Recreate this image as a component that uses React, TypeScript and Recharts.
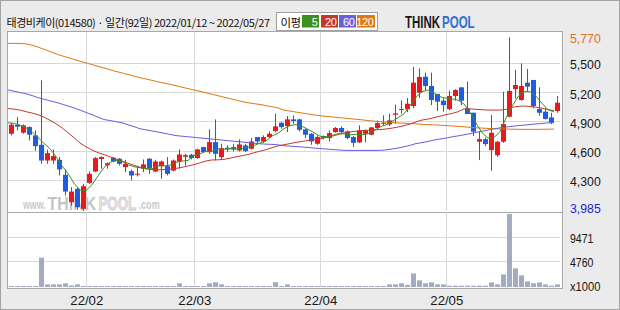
import React from 'react';
import { ComposedChart, Bar, Line, XAxis, YAxis, CartesianGrid } from 'recharts';

const TITLE = '태경비케이(014580) · 일간(92일) 2022/01/12 ~ 2022/05/27';
const MA_LEGEND = ['5', '20', '60', '120'];

const OPEN = [4779,4872,4790,4848,4762,4666,4504,4504,4511,4357, 4075,4213,4007,4274,4391,4520,4455,4532,4522,4436, 4395,4360,4419,4522,4391,4446,4446,4401,4494,4542, 4563,4529,4642,4590,4693,4539,4635,4642,4607,4659, 4625,4745,4700,4745,4807,4892,4858,4927,4927,4824, 4779,4676,4755,4735,4796,4838,4803,4745,4690,4779, 4769,4838,4882,4875,4975,5023,5030,5064,5201,5366, 5270,5188,5119,5033,5167,5256,5040,4995,4697,4724, 4611,4559,4697,4954,5239,5126,5304,5332,5033,5006, 4947,5013];
const HIGH = [4892,4951,4875,4855,4813,5328,4614,4618,4539,4412, 4230,4230,4264,4391,4539,4545,4485,4539,4529,4511, 4412,4440,4515,4529,4511,4504,4539,4515,4618,4573, 4573,4625,4645,4824,4927,4676,4659,4676,4721,4676, 4735,4745,4762,4803,4985,4899,4961,4968,4934,4831, 4786,4762,4762,4813,4848,4855,4813,4755,4865,4820, 4848,4916,4968,4985,5078,5122,5146,5466,5450,5407, 5407,5188,5143,5222,5236,5256,5315,4995,4807,4741, 4971,4704,5212,5770,5435,5503,5445,5332,5256,5040, 4995,5167];
const LOW = [4762,4813,4779,4710,4604,4470,4470,4470,4350,4144, 4041,4000,3985,4264,4384,4420,4420,4487,4453,4384, 4298,4340,4384,4367,4384,4316,4350,4391,4419,4453, 4515,4522,4590,4573,4504,4511,4590,4597,4597,4590, 4618,4676,4686,4735,4796,4831,4796,4882,4803,4734, 4666,4666,4721,4700,4789,4779,4721,4642,4683,4690, 4762,4831,4865,4858,4882,4985,5002,5043,5146,5229, 5074,5013,5006,5023,5119,5074,4982,4755,4508,4652, 4398,4542,4686,4947,5143,5119,5212,5040,4965,4927, 4879,4995];
const CLOSE = [4872,4851,4865,4769,4652,4504,4580,4549,4412,4185, 4185,4024,4240,4367,4528,4540,4475,4494,4470,4470, 4350,4368,4464,4426,4494,4494,4367,4504,4566,4559, 4529,4618,4590,4693,4573,4631,4618,4618,4669,4601, 4700,4700,4745,4779,4855,4848,4927,4910,4820,4769, 4700,4745,4735,4786,4838,4796,4735,4686,4813,4813, 4844,4889,4892,4916,4989,5033,5088,5304,5363,5270, 5126,5109,5074,5167,5229,5119,4982,4800,4724,4673, 4789,4697,4879,5219,5280,5270,5263,5064,4995,4930, 4892,5098];
const VOLUME = [190,190,190,190,190,5550,500,500,500,700, 300,500,190,190,190,190,190,190,190,190, 190,190,190,190,190,190,190,190,700,190, 190,190,190,700,900,500,190,190,190,190, 190,190,190,190,900,190,500,190,190,190, 190,190,190,190,190,190,190,190,190,190, 190,190,190,500,500,700,400,2580,1250,700, 880,500,500,250,250,250,250,250,250,250, 880,500,2390,13830,3530,2200,1060,700,880,500, 250,500];
const MA5 = [4892,4885,4868,4840,4802,4740,4680,4625,4545,4450, 4370,4270,4200,4195,4255,4345,4432,4485,4505,4495, 4460,4440,4430,4420,4420,4449,4449,4457,4485,4498, 4505,4555,4572,4598,4601,4621,4621,4627,4622,4627, 4641,4658,4683,4705,4756,4785,4831,4864,4872,4855, 4825,4789,4754,4747,4761,4780,4778,4768,4774,4769, 4778,4809,4850,4871,4906,4944,4984,5066,5155,5212, 5228,5200,5160,5145,5138,5125,5085,5000,4890,4790, 4735,4740,4800,4940,5060,5160,5212,5212,5165,5092, 5025,5004];
const MA20 = [5038,5032,5022,5006,4992,4975,4950,4918,4882,4840, 4790,4738,4685,4645,4612,4585,4565,4542,4520,4499, 4476,4455,4435,4418,4410,4409,4411,4415,4423,4434, 4448,4462,4480,4499,4510,4511,4516,4528,4542,4553, 4566,4584,4600,4616,4636,4654,4666,4678,4690,4700, 4710,4718,4728,4742,4754,4770,4788,4798,4805,4812, 4816,4819,4822,4828,4837,4848,4862,4879,4901,4920, 4930,4945,4960,4975,4988,5005,5035,5034,5030,5026, 5023,5022,5022,5030,5050,5060,5064,5060,5052,5042, 5028,5016];
const MA60 = [5230,5216,5203,5190,5172,5150,5134,5118,5102,5084, 5064,5045,5022,4998,4975,4950,4925,4915,4903,4892, 4872,4852,4830,4820,4808,4797,4785,4772,4760,4754, 4748,4742,4736,4730,4724,4718,4712,4706,4700,4694, 4688,4682,4676,4672,4670,4665,4656,4652,4648,4643, 4638,4632,4627,4622,4617,4613,4609,4608,4608,4608, 4608,4608,4609,4613,4622,4632,4645,4660,4678,4688, 4700,4714,4725,4735,4747,4757,4768,4780,4792,4805, 4817,4829,4840,4848,4855,4862,4868,4874,4880,4885, 4891,4894];
const MA120 = [5708,5708,5707,5703,5690,5670,5647,5625,5600,5580, 5562,5543,5525,5507,5490,5472,5455,5437,5420,5404, 5388,5372,5356,5342,5328,5313,5300,5287,5273,5258, 5243,5229,5216,5200,5185,5170,5155,5140,5125,5110, 5098,5088,5080,5069,5057,5045,5022,5012,5002,4992, 4982,4972,4965,4958,4952,4946,4940,4934,4928,4922, 4915,4909,4903,4898,4894,4890,4887,4884,4881,4876, 4873,4870,4867,4863,4859,4855,4850,4845,4841,4837, 4834,4831,4829,4827,4826,4825,4824,4824,4824,4825, 4826,4827];

const MONTH_TICKS = [13, 31, 52, 73];
const MONTH_LABELS = ['22/02', '22/03', '22/04', '22/05'];
const PRICE_TICKS = [3985, 4300, 4600, 4900, 5200, 5500, 5770];
const PRICE_GRID = [4300, 4600, 4900, 5200, 5500];
const PRICE_DOMAIN = [3985, 5825];
const VOL_TICKS = [0, 4760, 9471];
const VOL_GRID = [4760, 9471];
const VOL_DOMAIN = [0, 14207];

const RED = '#e8191c';
const BLUE = '#1f5ce0';
const C_MA5 = '#3d8f1d';
const C_MA20 = '#c43a2e';
const C_MA60 = '#6a5ce0';
const C_MA120 = '#e07812';
const VOL_COLOR = '#a3abc2';
const GRID = '#d9d9d9';
const NUM_FONT = "'Liberation Sans', Arial, sans-serif";
const LOGO_FONT = "'Liberation Sans', Arial, sans-serif";
const MONTH_BASELINE = 305;

const data = OPEN.map((o, i) => ({
  i,
  o,
  h: HIGH[i],
  l: LOW[i],
  c: CLOSE[i],
  range: [LOW[i], HIGH[i]],
  vol: VOLUME[i],
  ma5: MA5[i],
  ma20: MA20[i],
  ma60: MA60[i],
  ma120: MA120[i],
}));

const callScale = (s: any, v: number) => (typeof s === 'function' ? s(v) : s?.map?.(v));

const hGen = (vals: number[]) => (props: any) => {
  const s = props?.yAxis?.scale;
  if (!s) return [];
  return vals.map((v) => Math.floor(callScale(s, v)) + 0.5);
};
const vGen = (props: any) => {
  const s = props?.xAxis?.scale;
  if (!s) return [];
  return MONTH_TICKS.map((v) => Math.floor(callScale(s, v)) + 0.5);
};

const Candle = (props: any) => {
  const { x, y, width, height, payload } = props;
  if (!payload || height == null) return <g />;
  const { o, c, h, l } = payload;
  const top = Math.min(y, y + height);
  const hh = Math.abs(height);
  const per = h === l ? 0 : hh / (h - l);
  const yo = top + (h - o) * per;
  const yc = top + (h - c) * per;
  const color = c >= o ? RED : BLUE;
  const cx = Math.round(x + width / 2);
  const bTop = Math.min(yo, yc);
  const bH = Math.max(1, Math.abs(yo - yc));
  return (
    <g>
      <line x1={cx + 0.5} x2={cx + 0.5} y1={top} y2={top + hh} stroke={color} strokeWidth={1} />
      <rect x={cx - 2} y={bTop} width={5} height={bH} fill={color} />
    </g>
  );
};

const VolBar = (props: any) => {
  const { x, y, width, height } = props;
  if (height == null) return <g />;
  const cx = Math.round(x + width / 2);
  const top = Math.min(y, y + height);
  return <rect x={cx - 2} y={top} width={5} height={Math.max(1, Math.abs(height))} fill={VOL_COLOR} />;
};

const fmt = (v: number) => String(v).replace(/\B(?=(\d{3})+(?!\d))/g, ',');

const PriceTick = (props: any) => {
  const { x, y, payload } = props;
  const v = payload.value;
  const label = fmt(v);
  const color = v === 5770 ? '#d8731e' : v === 3985 ? '#1d1dd0' : '#161616';
  const dy = v === 3985 ? 1.8 : 5.8;
  return (
    <text x={x} y={y + dy} fill={color} fontSize={13} fontFamily={NUM_FONT} textLength={label.length * 6.15} lengthAdjust="spacingAndGlyphs">
      {label}
    </text>
  );
};

const VolTick = (props: any) => {
  const { x, y, payload } = props;
  const v = payload.value;
  const label = v === 0 ? 'x1000' : String(v);
  const dy = v === 0 ? 3.8 : v === 4760 ? 5.4 : 6.2;
  return (
    <text x={x} y={y + dy} fill="#161616" fontSize={13} fontFamily={NUM_FONT} textLength={label.length * (v === 0 ? 6.1 : 5.85)} lengthAdjust="spacingAndGlyphs">
      {label}
    </text>
  );
};

const MonthTick = (props: any) => {
  const { x, payload } = props;
  const idx = MONTH_TICKS.indexOf(payload.value);
  const label = MONTH_LABELS[idx] ?? '';
  return (
    <text x={x + 0.8} y={MONTH_BASELINE} textAnchor="middle" fill="#161616" fontSize={13} fontFamily={NUM_FONT} textLength={33} lengthAdjust="spacingAndGlyphs">
      {label}
    </text>
  );
};

const LEGEND_COLORS = [C_MA5, '#c5362c', '#6b60d8', '#e07a10'];

// horizontally condensed text piece (logo / watermark)
const Squeezed = ({ x, y, sx, size, fill, stroke, children }: any) => (
  <text
    transform={`translate(${x},${y}) scale(${sx},1)`}
    fontSize={size}
    fontWeight="bold"
    fontFamily={LOGO_FONT}
    fill={fill}
    stroke={stroke}
    strokeWidth={stroke ? 0.8 : 0}
  >
    {children}
  </text>
);

export default function App() {
  return (
    <div
      style={{
        position: 'absolute',
        left: 0,
        top: 0,
        width: 620,
        height: 310,
        background: '#ebebeb',
        boxShadow: 'inset 0 0 0 1px #a4a4a4',
        overflow: 'hidden',
      }}
    >
      {/* plot panels */}
      <div
        style={{
          position: 'absolute',
          left: 7,
          top: 31,
          width: 556,
          height: 258,
          background: '#ffffff',
          border: '1px solid #a8a8a8',
          boxSizing: 'border-box',
        }}
      />
      {/* watermark */}
      <svg width={620} height={310} style={{ position: 'absolute', left: 0, top: 0 }}>
        <Squeezed x={23} y={209} sx={0.68} size={13} fill="#c9c9c9">www.</Squeezed>
        <Squeezed x={47.5} y={209.5} sx={0.84} size={19} fill="#c4c4c4">THINK</Squeezed>
        <Squeezed x={98.5} y={209.5} sx={0.7} size={19} fill="#e2e2e2" stroke="#cdcdcd">POOL</Squeezed>
        <Squeezed x={138.5} y={209} sx={0.7} size={13} fill="#c9c9c9">.com</Squeezed>
      </svg>
      {/* price chart */}
      <div style={{ position: 'absolute', left: 0, top: 0 }}>
        <ComposedChart width={620} height={218} data={data} margin={{ top: 32, right: 10, bottom: 7, left: 8 }}>
          <CartesianGrid stroke={GRID} horizontalCoordinatesGenerator={hGen(PRICE_GRID)} verticalCoordinatesGenerator={vGen} />
          <XAxis dataKey="i" type="category" hide />
          <XAxis xAxisId="n" dataKey="i" type="number" domain={[0, 92]} allowDataOverflow hide />
          <YAxis
            orientation="right"
            domain={PRICE_DOMAIN}
            ticks={PRICE_TICKS}
            allowDataOverflow
            width={50}
            tickSize={0}
            tickMargin={10}
            axisLine={false}
            tickLine={false}
            interval={0}
            tick={(p: any) => <PriceTick {...p} />}
          />
          <Bar dataKey="range" barSize={6} shape={(p: any) => <Candle {...p} />} isAnimationActive={false} />
          <Line xAxisId="n" dataKey="ma120" stroke={C_MA120} strokeWidth={1} dot={false} activeDot={false} type="linear" isAnimationActive={false} />
          <Line xAxisId="n" dataKey="ma60" stroke={C_MA60} strokeWidth={1} dot={false} activeDot={false} type="linear" isAnimationActive={false} />
          <Line xAxisId="n" dataKey="ma20" stroke={C_MA20} strokeWidth={1} dot={false} activeDot={false} type="linear" isAnimationActive={false} />
          <Line xAxisId="n" dataKey="ma5" stroke={C_MA5} strokeWidth={1} dot={false} activeDot={false} type="linear" isAnimationActive={false} />
        </ComposedChart>
      </div>
      {/* separator */}
      <div style={{ position: 'absolute', left: 8, top: 212, width: 554, height: 1, background: '#a8a8a8' }} />
      {/* volume chart */}
      <div style={{ position: 'absolute', left: 0, top: 0 }}>
        <ComposedChart width={620} height={310} data={data} margin={{ top: 212, right: 10, bottom: 0, left: 8 }}>
          <CartesianGrid stroke={GRID} horizontalCoordinatesGenerator={hGen(VOL_GRID)} verticalCoordinatesGenerator={vGen} />
          <XAxis dataKey="i" type="category" hide />
          <XAxis
            xAxisId="n"
            dataKey="i"
            type="number"
            domain={[0, 92]}
            allowDataOverflow
            ticks={MONTH_TICKS}
            interval={0}
            height={23}
            tickSize={0}
            tickMargin={0}
            axisLine={false}
            tickLine={false}
            tick={(p: any) => <MonthTick {...p} />}
          />
          <YAxis
            orientation="right"
            domain={VOL_DOMAIN}
            ticks={VOL_TICKS}
            allowDataOverflow
            width={50}
            tickSize={0}
            tickMargin={10}
            axisLine={false}
            tickLine={false}
            interval={0}
            tick={(p: any) => <VolTick {...p} />}
          />
          <Bar dataKey="vol" barSize={6} shape={(p: any) => <VolBar {...p} />} isAnimationActive={false} />
          <Line xAxisId="n" dataKey="vol" stroke="none" dot={false} activeDot={false} isAnimationActive={false} />
        </ComposedChart>
      </div>
      {/* header */}
      <svg width={620} height={32} style={{ position: 'absolute', left: 0, top: 0 }}>
        <text x={6.5} y={27.3} fontSize={11} letterSpacing={-0.45} fontFamily="'Noto Sans CJK KR', sans-serif" fill="#111">
          {TITLE}
        </text>
        <rect x={276.5} y={12.5} width={101} height={18} fill="#ffffff" stroke="#a0a0a0" strokeWidth={1} />
        <text x={280.5} y={26.5} fontSize={11.5} letterSpacing={-0.5} fontFamily="'Noto Sans CJK KR', sans-serif" fill="#111">이평</text>
        {MA_LEGEND.map((lab, k) => {
          const bx = [302, 321, 339, 357][k];
          const bw = [17, 17, 17, 18][k];
          return (
            <g key={lab}>
              <rect x={bx} y={15} width={bw} height={12.5} fill={LEGEND_COLORS[k]} />
              <text x={bx + bw - 1.5} y={25.8} textAnchor="end" fontSize={11} letterSpacing={-0.4} fontFamily={NUM_FONT} fill="#ffffff">{lab}</text>
            </g>
          );
        })}
        <Squeezed x={405} y={28} sx={0.72} size={16} fill="#1a1a1a">THINK</Squeezed>
        <Squeezed x={442} y={28} sx={0.72} size={16} fill="#2f6fd2">POOL</Squeezed>
      </svg>
    </div>
  );
}
